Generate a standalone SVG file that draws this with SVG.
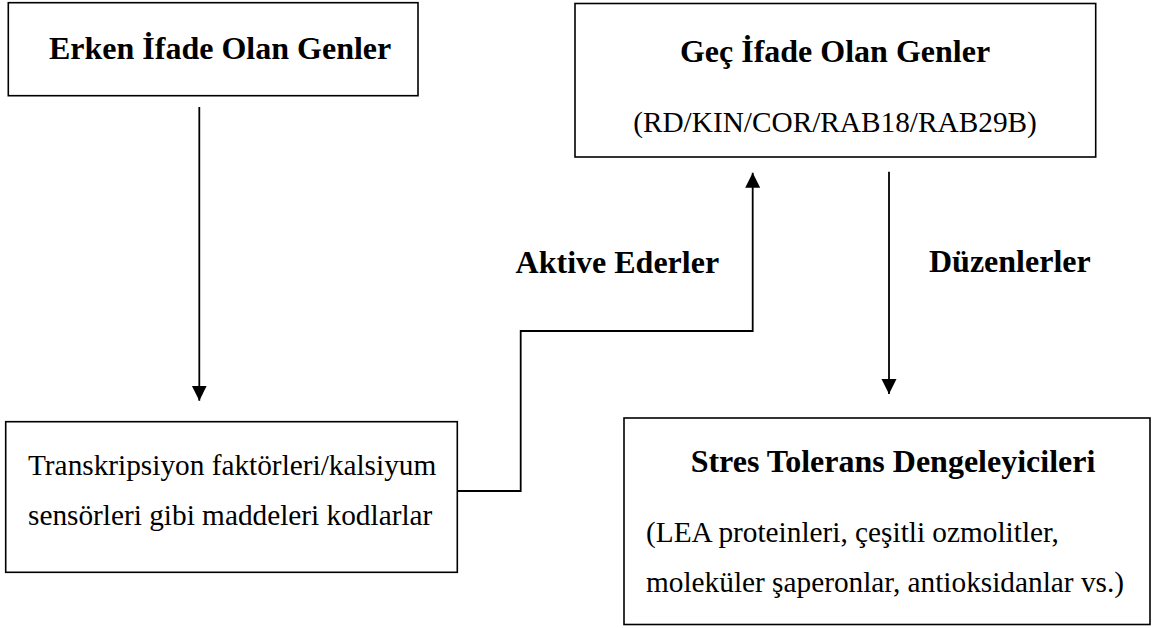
<svg xmlns="http://www.w3.org/2000/svg" width="1153" height="628" viewBox="0 0 1153 628">
  <style>
    .box { fill: #ffffff; stroke: #000000; stroke-width: 1.6; }
    .conn { fill: none; stroke: #000000; stroke-width: 1.8; }
    .b { font-family: "Liberation Serif", "Times New Roman", serif; font-weight: bold; font-size: 32px; fill: #000000; }
    .r { font-family: "Liberation Serif", "Times New Roman", serif; font-size: 29.3px; fill: #000000; }
  </style>
  <defs>
    <marker id="arrow" markerUnits="userSpaceOnUse" markerWidth="16" markerHeight="16" refX="15" refY="7.5" orient="auto">
      <path d="M0,0 L15,7.5 L0,15 Z" fill="#000000"/>
    </marker>
  </defs>
  <rect width="1153" height="628" fill="#ffffff"/>

  <g id="node-erken">
    <rect class="box" x="8.3" y="2.7" width="409.7" height="93"/>
    <text class="b" x="49" y="59">Erken İfade Olan Genler</text>
  </g>

  <g id="node-gec">
    <rect class="box" x="575" y="3.5" width="520.7" height="153.5"/>
    <text class="b" x="835" y="62" text-anchor="middle">Geç İfade Olan Genler</text>
    <text class="r" x="835" y="132" text-anchor="middle">(RD/KIN/COR/RAB18/RAB29B)</text>
  </g>

  <g id="node-transkripsiyon">
    <rect class="box" x="5.7" y="421.7" width="451.6" height="150.6"/>
    <text class="r" x="28" y="475">Transkripsiyon faktörleri/kalsiyum</text>
    <text class="r" x="28" y="525">sensörleri gibi maddeleri kodlarlar</text>
  </g>

  <g id="node-stres">
    <rect class="box" x="624" y="418" width="526" height="206.5"/>
    <text class="b" x="893" y="471.7" text-anchor="middle">Stres Tolerans Dengeleyicileri</text>
    <text class="r" x="646" y="542">(LEA proteinleri, çeşitli ozmolitler,</text>
    <text class="r" x="646" y="592">moleküler şaperonlar, antioksidanlar vs.)</text>
  </g>

  <g id="connectors">
    <line class="conn" x1="199.3" y1="107" x2="199.3" y2="400.7" marker-end="url(#arrow)"/>
    <polyline class="conn" points="457.3,491 520.7,491 520.7,331 752.7,331 752.7,172.7" marker-end="url(#arrow)"/>
    <line class="conn" x1="889" y1="171.7" x2="889" y2="394" marker-end="url(#arrow)"/>
    <text class="b" x="515.6" y="273">Aktive Ederler</text>
    <text class="b" x="929" y="272">Düzenlerler</text>
  </g>
</svg>
